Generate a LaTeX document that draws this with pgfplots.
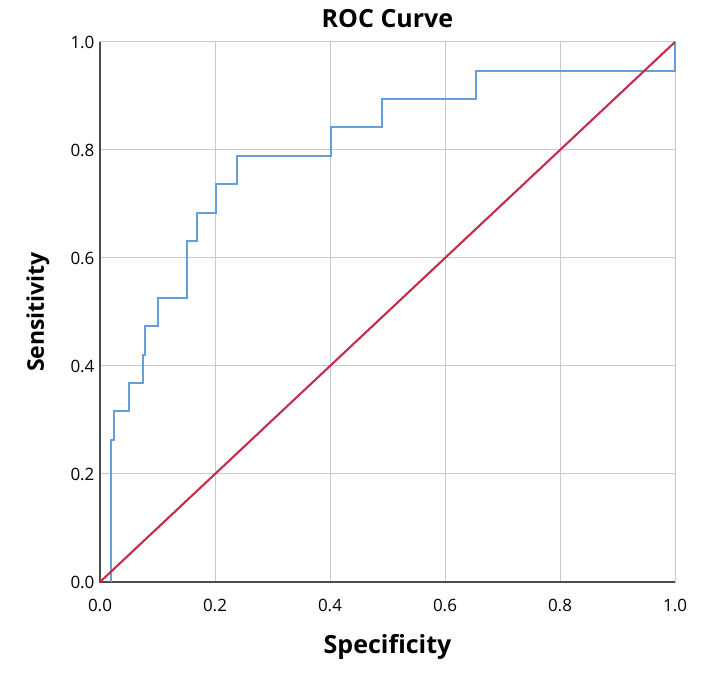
\documentclass[border=0pt]{standalone}
\usepackage{fontspec}
\setmainfont{Open Sans}
\usepackage{pgfplots}
\pgfplotsset{compat=1.18}
\definecolor{roc}{RGB}{100,160,215}
\definecolor{refl}{RGB}{195,45,75}
\definecolor{gridc}{RGB}{200,200,206}
\begin{document}
\begin{tikzpicture}
\path[use as bounding box] (-100pt,-97pt) rectangle (606pt,582pt);
\begin{axis}[
  at={(0pt,0pt)}, anchor=south west,
  scale only axis, width=575pt, height=540pt,
  xmin=0, xmax=1, ymin=0, ymax=1,
  clip=false,
  xtick={0,0.2,0.4,0.6,0.8,1}, ytick={0,0.2,0.4,0.6,0.8,1},
  /pgf/number format/.cd, fixed, fixed zerofill, precision=1, assume math mode=true, /pgfplots/.cd,
  tick label style={font=\fontsize{17}{20}\selectfont},
  xticklabel style={anchor=center, yshift=-23pt},
  yticklabel style={anchor=east, xshift=-2pt},
  major tick length=0pt,
  grid=major, major grid style={gridc, line width=1pt},
  axis line style={gridc, line width=1pt},
  xlabel={Specificity},
  xlabel style={font=\fontsize{25}{30}\selectfont\bfseries, at={(axis description cs:0.5,0)}, anchor=center, yshift=-65pt},
  ylabel={Sensitivity},
  ylabel style={font=\fontsize{23}{28}\selectfont\bfseries, at={(axis description cs:-0.108,0.5)}, anchor=center},
  title={ROC Curve},
  title style={font=\fontsize{25}{30}\selectfont\bfseries, at={(axis description cs:0.5,1)}, anchor=center, yshift=17pt},
]
\draw[gray!60!black, line width=1.3pt] (axis description cs:0,1) -- (axis description cs:0,0) -- (axis description cs:1,0);
\addplot[roc, line width=2.1pt, line join=miter] coordinates {
(0.019,0) (0.019,0.263) (0.024,0.263) (0.024,0.316) (0.051,0.316) (0.051,0.368)
(0.075,0.368) (0.075,0.421) (0.079,0.421) (0.079,0.474) (0.101,0.474) (0.101,0.526)
(0.151,0.526) (0.151,0.632) (0.169,0.632) (0.169,0.684) (0.201,0.684) (0.201,0.737)
(0.239,0.737) (0.239,0.789) (0.401,0.789) (0.401,0.842) (0.491,0.842) (0.491,0.895)
(0.654,0.895) (0.654,0.947) (1,0.947) (1,1)
};
\addplot[refl, line width=2.1pt] coordinates {(0,0) (1,1)};
\end{axis}
\end{tikzpicture}
\end{document}
